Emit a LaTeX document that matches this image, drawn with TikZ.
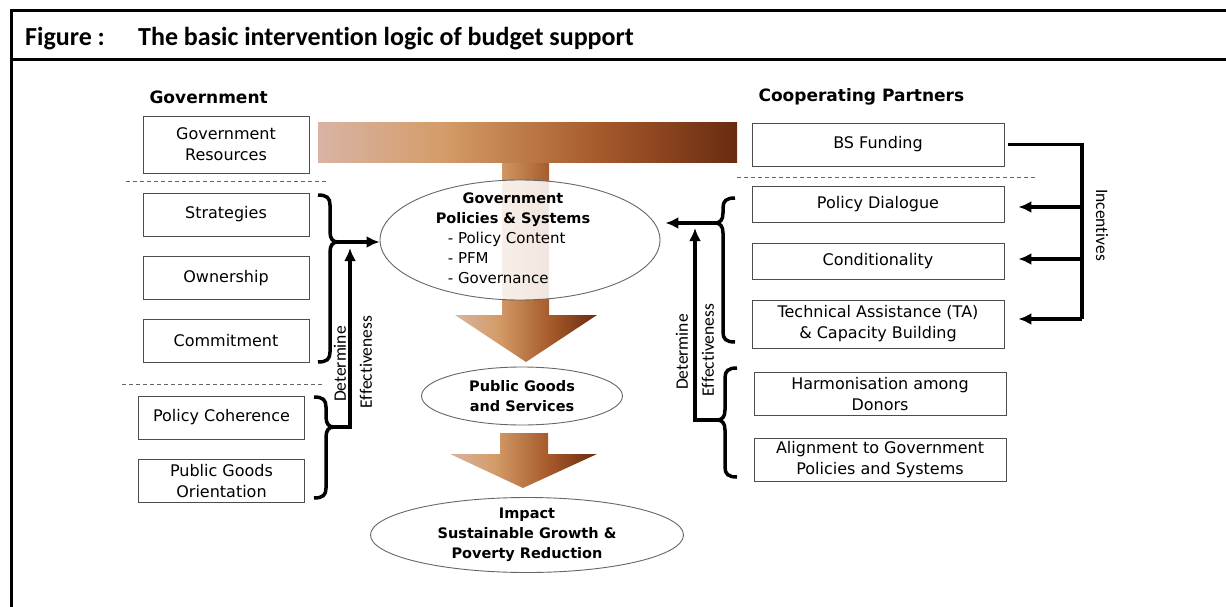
\documentclass[tikz,border=0pt]{standalone}
\usepackage{fontspec}
\setmainfont{DejaVu Sans}
\newfontfamily\calib[RawFeature={-liga;-clig}]{Carlito}
\usetikzlibrary{shapes.geometric,arrows.meta}

\definecolor{tA}{HTML}{D8B4A4}
\definecolor{tB}{HTML}{D49C68}
\definecolor{tC}{HTML}{A5582A}
\definecolor{tD}{HTML}{692B11}
\pgfdeclarehorizontalshading{tshade}{100bp}{color(0bp)=(tA); color(25bp)=(tA); color(40bp)=(tB); color(59bp)=(tC); color(75bp)=(tD); color(100bp)=(tD)}

% curly brace: x of ends, top, tip, bottom, direction (1 or -1), tip name
\newcommand{\drawcurly}[6]{%
  \draw[heavy] (#1,#2) .. controls ({#1+9*(#5)},#2) and ({#1+12*(#5)},{#2+3}) .. ({#1+12*(#5)},{#2+10})
    -- ({#1+12*(#5)},{#3-10}) .. controls ({#1+12*(#5)},{#3-3}) and ({#1+15*(#5)},#3) .. ({#1+20*(#5)},#3)
    .. controls ({#1+15*(#5)},#3) and ({#1+12*(#5)},{#3+3}) .. ({#1+12*(#5)},{#3+10})
    -- ({#1+12*(#5)},{#4-10}) .. controls ({#1+12*(#5)},{#4-3}) and ({#1+9*(#5)},#4) .. (#1,#4);
  \coordinate (#6) at ({#1+20*(#5)},#3);}

\begin{document}
\begin{tikzpicture}[x = 1pt, y = -1pt,
    itembox/.style = {draw = black!70, line width = 0.9pt, minimum width = 166pt, minimum height = 43pt,
                      inner sep = 0pt, align = center, font = \fontsize{16}{21}\selectfont},
    widebox/.style = {itembox, minimum width = 252pt},
    goal/.style = {ellipse, draw = black!60, line width = 0.9pt, fill = white, inner sep = 0pt},
    goaltext/.style = {align = center, font = \bfseries\fontsize{14.5}{20}\selectfont},
    colhead/.style = {anchor = west, font = \bfseries\fontsize{17}{20}\selectfont},
    heavy/.style = {line width = 3.5pt},
    arr/.style = {-{Latex[length = 13pt, width = 12pt]}},
    divider/.style = {draw = black!60, line width = 0.8pt, dash pattern = on 4pt off 3pt},
    rotlabel/.style = {font = \calib\fontsize{17.5}{20}\selectfont}]
  \useasboundingbox (0,0) rectangle (1226,607);

  % frame and title
  \draw[line width = 3pt] (1226,11) -- (11,11) -- (11,607);
  \draw[line width = 3pt] (11,60) -- (1226,60);
  \node[anchor = base west, inner sep = 0pt, font = \calib\bfseries\fontsize{26}{30}\selectfont] (figlab) at (25,46) {Figure :};
  \node[anchor = base west, inner sep = 0pt, font = \calib\bfseries\fontsize{26}{30}\selectfont] (figtitle) at (138,46) {The basic intervention logic of budget support};

  % flow arrows
  \shade[shading = tshade] (502,160) -- (502,315) -- (455,315) -- (526,362) -- (597,315) -- (549,315) -- (549,160) -- cycle;
  \shade[shading = tshade] (318,123) rectangle (737,162);
  \shade[shading = tshade] (500,433) -- (500,454) -- (450,454) -- (523,488) -- (597,454) -- (548,454) -- (548,433) -- cycle;

  % government side
  \node[colhead] (govhead) at (146,97) {Government};
  \node[itembox, minimum height = 57pt] (gres) at (226,144.5) {Government\\Resources};
  \node[itembox] (strat) at (226,214.5) {Strategies};
  \node[itembox] (own) at (226,278) {Ownership};
  \node[itembox] (comm) at (226,341) {Commitment};
  \node[itembox] (pcoh) at (221.5,417.5) {Policy Coherence};
  \node[itembox] (pgo) at (221.5,481) {Public Goods\\Orientation};
  \draw[divider] (126,181) -- (328,181);
  \draw[divider] (122,384) -- (323,384);

  % partners side
  \node[colhead] (cphead) at (755,97) {Cooperating Partners};
  \node[widebox] (bsf) at (878,144.5) {BS Funding};
  \node[widebox, minimum height = 36pt] (pdia) at (878,204) {Policy Dialogue};
  \node[widebox, minimum height = 36pt] (cond) at (878,261) {Conditionality};
  \node[widebox, minimum height = 48pt] (ta) at (878,324) {Technical Assistance (TA)\\\& Capacity Building};
  \node[widebox] (harm) at (880,394) {Harmonisation among\\Donors};
  \node[widebox] (algn) at (880,460) {Alignment to Government\\Policies and Systems};
  \draw[divider] (737,177) -- (1036,177);

  % results
  \node[goal, fill opacity = 0.85, minimum width = 280pt, minimum height = 120pt] (gps) at (520,240) {};
  \node[font = \fontsize{15}{20}\selectfont, inner sep = 0pt] (gpstxt) at (513,239)
    {\begin{tabular}{@{}l@{}}
      \multicolumn{1}{@{}c@{}}{\bfseries\fontsize{14.5}{20}\selectfont Government}\\
      \multicolumn{1}{@{}c@{}}{\bfseries\fontsize{14.5}{20}\selectfont Policies \& Systems}\\
      \hspace*{12pt}- Policy Content\\
      \hspace*{12pt}- PFM\\
      \hspace*{12pt}- Governance
    \end{tabular}};
  \node[goal, minimum width = 201pt, minimum height = 58pt] (pgs) at (522,396) {};
  \node[goaltext] (pgstxt) at (pgs.center) {Public Goods\\and Services};
  \node[goal, minimum width = 313pt, minimum height = 75pt] (imp) at (527,535) {};
  \node[goaltext] (imptxt) at (imp.center) {Impact\\Sustainable Growth \&\\Poverty Reduction};

  % braces and effectiveness arrows
  \drawcurly{318}{195}{242}{362}{1}{lbA}
  \drawcurly{314}{397}{427}{498}{1}{lbB}
  \drawcurly{735}{198}{223}{342}{-1}{rbA}
  \drawcurly{737}{368}{420}{477}{-1}{rbB}
  \coordinate (lup) at (350,248);
  \coordinate (rup) at (695,228);
  \draw[heavy, arr] (lbA) -- (lbA -| gps.west);
  \draw[heavy, arr] (lbB) -| (lup);
  \draw[heavy, arr, shorten > = 5pt] (rbA) -- (rbA -| gps.east);
  \draw[heavy, arr] (rbB) -| (rup);
  \node[rotlabel, rotate = 90] (detL) at (340,364) {Determine};
  \node[rotlabel, rotate = 90] (effL) at (366,362) {Effectiveness};
  \node[rotlabel, rotate = 90] (detR) at (682,352) {Determine};
  \node[rotlabel, rotate = 90] (effR) at (708,350) {Effectiveness};

  % incentives
  \coordinate (incB) at (1082,319);
  \draw[heavy, shorten < = 4pt] (bsf.east) -| (incB);
  \draw[heavy, arr, shorten > = 14pt] (incB |- 0,207) -- (pdia.east |- 0,207);
  \draw[heavy, arr, shorten > = 14pt] (incB |- 0,259) -- (cond.east |- 0,259);
  \draw[heavy, arr, shorten > = 14pt] (incB) -- (incB -| ta.east);
  \node[rotlabel, rotate = -90] (incl) at (1102,225) {Incentives};
\end{tikzpicture}
\end{document}
